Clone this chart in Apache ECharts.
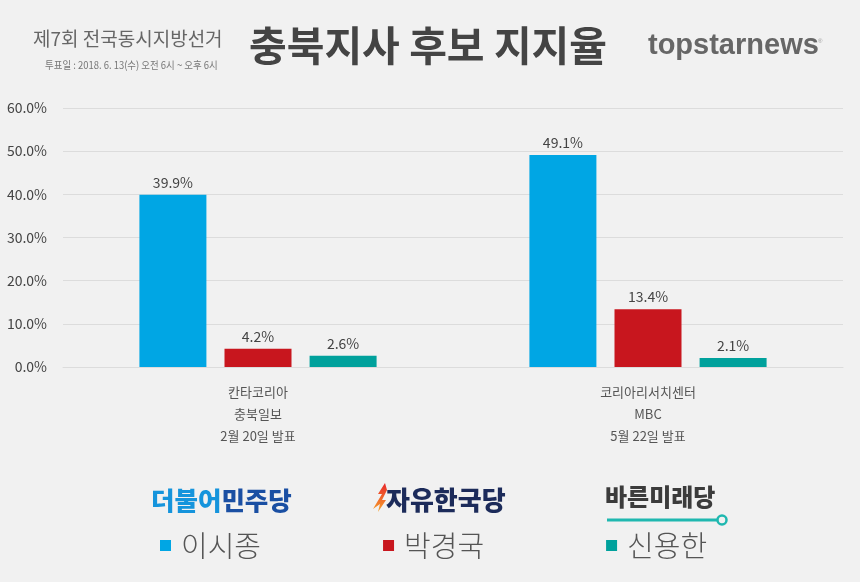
<!DOCTYPE html>
<html>
<head>
<meta charset="utf-8">
<script src="https://cdn.jsdelivr.net/npm/echarts@6/dist/echarts.min.js"></script>
<style>
html,body{margin:0;padding:0;background:#f1f1f1;}
#chart{width:860px;height:582px;}
</style>
</head>
<body>
<div id="chart"></div>
<script>
const categories = ['칸타코리아\n충북일보\n2월 20일 발표', '코리아리서치센터\nMBC\n5월 22일 발표'];
const candidates = ['이시종', '박경국', '신용한'];
const parties = ['더불어민주당', '자유한국당', '바른미래당'];
const leeValues = [39.9, 49.1];
const parkValues = [4.2, 13.4];
const shinValues = [2.6, 2.1];
const colors = ['#00a6e4', '#c8161e', '#00a19c'];
const titleText = '충북지사 후보 지지율';
const electionText = '제7회 전국동시지방선거';
const dateText = '투표일 : 2018. 6. 13(수) 오전 6시 ~ 오후 6시';
const brandText = 'topstarnews';

const KR = '"Noto Sans CJK KR", "Noto Sans", sans-serif';
const chart = echarts.init(document.getElementById('chart'), null, {renderer: 'canvas'});

function barSeries(name, data, color) {
  return {
    name: name,
    type: 'bar',
    data: data,
    barWidth: 67,
    barGap: '27%',
    itemStyle: {color: color},
    label: {
      show: true,
      position: 'top',
      distance: 5,
      fontFamily: KR,
      fontSize: 14,
      color: '#444',
      formatter: p => p.value.toFixed(1) + '%'
    }
  };
}

const option = {
  backgroundColor: '#f1f1f1',
  animation: false,
  grid: {left: 63, right: 17, top: 108, bottom: 215, containLabel: false},
  legend: {
    data: candidates,
    left: 160,
    top: 531,
    padding: 0,
    itemWidth: 11,
    itemHeight: 11,
    itemGap: 122,
    icon: 'rect',
    textStyle: {fontFamily: KR, fontSize: 29, color: '#555', fontWeight: 300, padding: [0, 0, 0, 5]}
  },
  xAxis: {
    type: 'category',
    data: categories,
    axisLine: {show: true, lineStyle: {color: '#dcdcdc'}},
    axisTick: {show: false},
    axisLabel: {
      fontFamily: KR, fontSize: 13, color: '#555', lineHeight: 22, margin: 14
    }
  },
  yAxis: {
    type: 'value',
    min: 0, max: 60, interval: 10,
    axisLine: {show: false},
    axisTick: {show: false},
    splitLine: {lineStyle: {color: '#dcdcdc'}},
    axisLabel: {
      fontFamily: KR, fontSize: 14, color: '#444', margin: 16,
      formatter: v => v.toFixed(1) + '%'
    }
  },
  series: [
    barSeries(candidates[0], leeValues, colors[0]),
    barSeries(candidates[1], parkValues, colors[1]),
    barSeries(candidates[2], shinValues, colors[2])
  ],
  graphic: [
    {type: 'text', left: 33, top: 29, style: {text: electionText, fontFamily: KR, fontSize: 19, fill: '#666'}},
    {type: 'text', x: 45, y: 60, scaleX: 0.9, style: {text: dateText, fontFamily: KR, fontSize: 10.5, fill: '#777'}},
    {type: 'text', x: 428, y: 45, style: {text: titleText, fontFamily: KR, fontSize: 41, fontWeight: 'bold', fill: '#444', align: 'center', verticalAlign: 'middle'}},
    {type: 'text', x: 648, y: 46, style: {text: brandText, fontFamily: '"Liberation Sans", Arial, sans-serif', fontSize: 29, fontWeight: 'bold', fill: '#666', verticalAlign: 'middle'}},
    {type: 'text', x: 818, y: 38, style: {text: '®', fontFamily: '"Liberation Sans", sans-serif', fontSize: 6, fill: '#999'}},
    // party logos
    {type: 'text', x: 151, y: 500, style: {
      text: '{a|더불어}{b|민주당}', verticalAlign: 'middle',
      rich: {
        a: {fontFamily: KR, fontSize: 25.5, fontWeight: 900, fill: '#1594dc'},
        b: {fontFamily: KR, fontSize: 25.5, fontWeight: 900, fill: '#1a4fa3'}
      }
    }},
    {type: 'polygon', shape: {points: [[385,483],[378,494],[382,494],[373,509],[380,504],[378,512],[386,500],[382,500],[387,490]]},
      style: {fill: new echarts.graphic.LinearGradient(0, 0, 0, 1, [{offset: 0, color: '#e8262b'}, {offset: 1, color: '#f6a32a'}])}},
    {type: 'text', x: 386, y: 500, style: {text: parties[1], fontFamily: KR, fontSize: 26, fontWeight: 900, fill: '#1c2b5a', verticalAlign: 'middle'}},
    {type: 'text', x: 605, y: 497, style: {text: parties[2], fontFamily: KR, fontSize: 24, fontWeight: 900, fill: '#3b3b3b', verticalAlign: 'middle'}},
    {type: 'line', shape: {x1: 607, y1: 520, x2: 717, y2: 520}, style: {stroke: '#1fb8b0', lineWidth: 3}},
    {type: 'circle', shape: {cx: 722, cy: 520, r: 4.5}, style: {fill: 'none', stroke: '#1fb8b0', lineWidth: 2.5}}
  ]
};
chart.setOption(option);
</script>
</body>
</html>
